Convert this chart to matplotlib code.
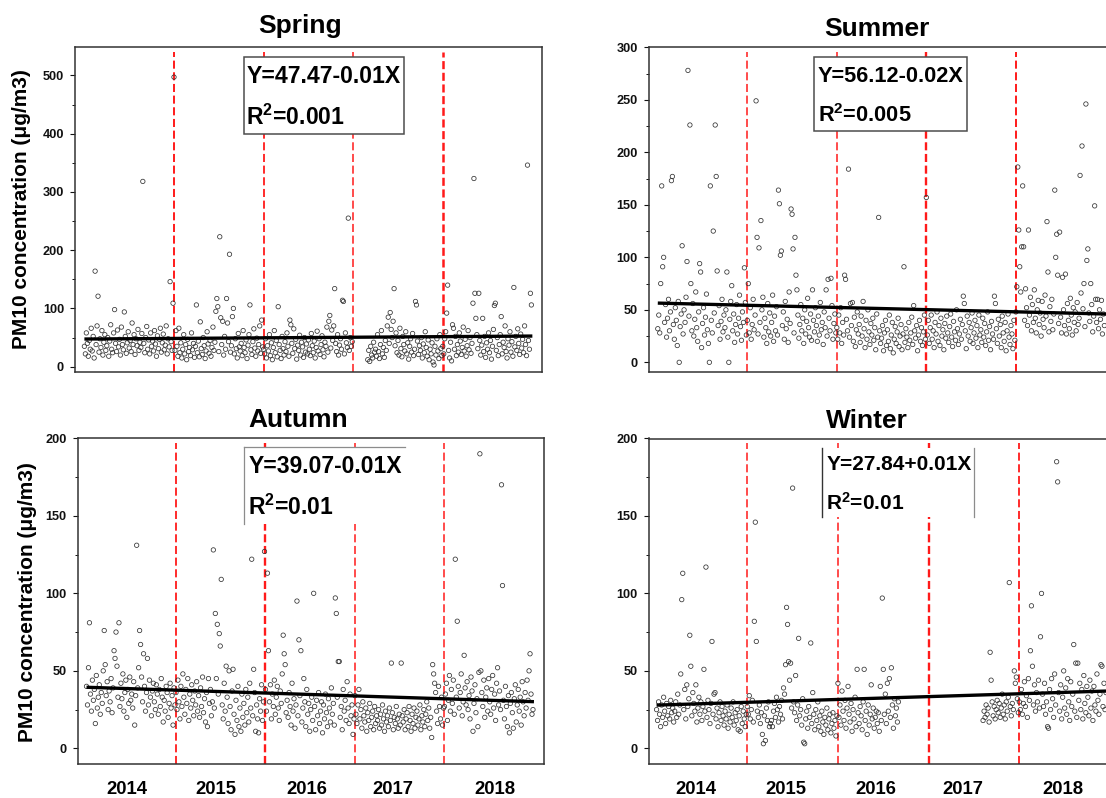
import numpy as np
import matplotlib
matplotlib.use("Agg")
import matplotlib.pyplot as plt
from matplotlib.ticker import MultipleLocator
from matplotlib.patches import Rectangle
from matplotlib.lines import Line2D

nan = float("nan")

# ---------------- data (daily PM10, one list per season-year) ----------------
year_labels = ["2014", "2015", "2016", "2017", "2018"]

spring_2014 = [35,22,58,40,18,45,30,66,27,52,15,164,38,70,121,25,48,33,62,20,42,55,28,
               36,50,18,44,72,30,24,58,98,40,26,63,34,47,20,68,38,29,94,52,23,41,60,
               32,45,26,75,38,55,21,48,36,64,28,42,33,57,318,40,24,50,69,30,46,22,58,
               35,44,27,62,39,18,53,31,47,66,25,41,56,29,37,70,22,48,34,146,43,28,109]
spring_2015 = [497,28,62,35,18,66,24,41,15,30,55,22,38,12,47,26,33,19,58,29,40,16,35,
               106,24,44,17,77,31,21,50,36,14,27,60,39,23,45,18,33,68,28,42,95,117,103,
               26,223,84,38,78,20,52,30,117,75,43,193,25,36,86,100,22,48,31,15,57,34,27,
               40,19,62,33,24,46,14,37,55,106,29,21,43,65,32,18,49,27,38,70,23,80,34]
spring_2016 = [30,22,48,15,36,27,55,19,41,12,33,62,24,45,17,103,38,28,14,52,31,20,43,
               26,58,35,18,80,72,40,23,65,31,47,13,37,28,54,20,42,34,16,50,25,39,22,
               46,30,19,57,36,24,44,15,33,61,27,48,21,38,53,29,17,42,35,68,25,78,88,
               32,63,45,70,134,40,26,55,20,37,48,30,114,112,22,58,41,33,255,28,50,35,43]
spring_2017 = [nan,nan,nan,nan,nan,nan,nan,nan,nan,nan,nan,nan,nan,nan,nan,12,28,9,35,20,15,42,25,
               30,18,55,26,14,38,62,22,33,16,45,28,70,85,40,93,64,50,78,134,36,58,24,
               45,20,66,31,17,52,38,27,60,22,41,13,35,48,25,57,19,30,112,106,44,21,36,
               28,50,15,39,24,60,33,18,46,12,30,22,41,8,3,35,20,48,27,14,55,31,19]
spring_2018 = [35,22,48,60,92,140,28,15,42,10,72,66,30,52,19,38,25,58,44,21,33,68,27,
               47,18,36,62,29,50,23,40,109,323,126,83,55,31,126,45,20,37,83,26,52,16,41,
               30,58,24,45,13,35,64,105,109,28,50,19,38,55,86,22,42,33,70,26,15,48,37,
               60,25,43,18,136,34,52,28,65,40,21,56,32,47,24,70,38,19,346,45,30,126,106]

summer_2014 = [32,45,28,75,168,91,100,38,55,24,42,60,30,48,173,177,36,22,52,40,16,58,0,
               34,46,111,27,50,38,62,96,278,44,226,75,30,56,25,41,67,33,20,48,94,86,14,
               37,52,26,43,65,31,18,0,168,40,28,125,47,226,177,87,35,54,22,39,60,29,45,
               33,50,86,24,0,41,58,73,30,46,19,36,55,27,42,64,34,21,48,38,90,57,26]
summer_2015 = [40,75,28,52,22,36,60,31,45,249,119,27,109,38,135,50,62,24,42,33,18,56,29,
               47,25,38,64,20,44,30,53,26,164,151,102,106,35,48,22,58,32,41,19,67,37,146,
               141,108,28,119,83,69,45,23,36,55,30,42,18,50,27,39,61,33,24,46,21,69,40,
               29,52,35,20,44,26,57,31,38,17,48,33,69,25,79,42,30,80,54,22,37,46,28]
summer_2016 = [33,22,45,28,52,18,38,26,83,79,41,30,184,24,56,35,57,20,43,15,31,48,27,
               36,19,44,25,58,32,14,40,22,50,29,17,37,26,42,21,33,12,46,24,138,30,18,
               23,35,11,28,40,16,31,20,45,13,26,38,9,22,34,18,29,42,15,25,36,12,27,
               91,19,32,24,14,38,21,28,43,17,54,30,23,35,11,26,40,20,33,16,29,45,22]
summer_2017 = [157,26,40,18,33,45,22,30,14,38,27,48,20,35,16,42,25,31,12,37,23,44,28,
               19,34,46,24,15,39,29,21,50,32,17,27,41,22,36,63,56,30,13,44,25,38,20,
               33,47,18,28,40,23,35,14,45,26,31,19,42,24,37,16,29,48,21,34,12,39,27,
               22,63,56,32,18,41,25,36,14,44,28,20,38,11,30,46,24,17,35,27,13,40,21]
summer_2018 = [48,72,186,126,91,67,110,168,110,40,70,52,35,126,45,62,30,55,38,69,42,28,50,
               59,36,47,25,58,41,33,64,44,134,86,29,53,39,60,31,46,164,100,122,83,37,124,
               43,28,81,50,35,84,27,56,40,32,61,45,26,52,38,48,30,57,36,42,178,66,206,
               51,75,34,246,97,108,47,39,75,55,29,44,149,60,38,60,32,50,41,59,27,46,35]

autumn_2014 = [40,28,52,81,35,24,44,31,38,16,47,26,33,41,22,36,29,50,76,54,34,43,25,
               37,30,45,23,39,63,58,75,53,33,81,27,42,32,48,24,36,44,20,38,29,46,31,
               35,26,43,15,34,131,39,52,76,67,46,30,61,40,24,36,58,28,44,33,21,37,42,
               30,25,41,35,22,38,27,45,33,17,31,24,40,36,20,29,42,26,34,15,39,28]
autumn_2015 = [36,25,44,30,19,40,27,48,33,22,38,29,45,18,35,26,41,31,21,37,28,43,24,
               34,20,39,27,46,23,32,17,36,14,45,29,38,21,30,128,26,87,45,80,35,74,66,
               109,28,19,42,24,53,33,16,50,27,12,37,51,22,9,31,18,40,14,26,11,35,20,
               29,15,38,23,33,17,42,26,122,21,51,36,11,28,19,10,32,24,41,18,30,127]
autumn_2016 = [38,24,113,63,30,41,19,35,27,44,22,33,40,26,18,37,29,48,73,61,54,23,31,
               20,36,27,15,42,24,32,13,28,95,21,70,34,63,17,26,45,30,14,38,22,29,11,
               25,33,18,100,27,12,31,21,36,16,24,30,10,28,19,35,23,14,32,26,17,39,22,
               29,15,97,87,33,56,56,20,27,12,38,24,31,18,43,26,16,35,21,28,9,19]
autumn_2017 = [34,22,16,28,38,19,25,13,30,21,17,26,11,23,18,29,14,20,24,12,27,16,21,
               18,25,13,22,15,28,19,11,24,17,21,14,26,18,55,23,12,20,16,27,19,13,22,
               15,55,21,17,25,12,19,23,14,27,18,11,22,16,26,13,20,24,15,19,28,12,21,
               17,25,14,22,30,18,26,13,20,7,54,48,42,36,24,16,40,27,19,33,15,26]
autumn_2018 = [27,35,42,18,31,47,24,38,29,44,22,122,33,82,40,26,36,48,21,30,60,39,28,
               43,25,34,19,46,37,11,29,41,23,32,14,49,190,50,36,27,44,20,33,39,24,45,
               30,22,38,47,26,35,18,42,52,28,37,25,170,105,31,19,40,27,14,34,10,29,36,
               23,13,32,41,17,28,38,24,33,15,43,30,21,36,26,44,31,50,61,35,22,25]

winter_2014 = [25,18,30,22,14,28,20,33,24,16,29,21,27,19,31,23,26,17,24,30,20,35,22,
               28,48,96,113,25,38,19,41,27,32,73,53,21,36,29,24,41,17,26,33,22,30,18,
               27,51,24,117,20,31,25,16,29,69,22,35,36,19,26,14,23,30,18,27,21,15,
               24,19,28,13,22,17,26,20,30,15,23,18,25,12,21,11,27,16,24,19,14,22]
winter_2015 = [27,22,34,19,25,31,17,82,146,69,24,20,28,16,23,9,3,21,5,26,18,30,14,
               16,18,14,24,29,20,33,25,17,27,22,31,19,39,35,54,91,80,56,44,55,26,168,
               30,23,47,18,28,71,21,25,15,32,4,3,19,24,13,27,20,68,16,36,22,12,
               25,18,30,14,21,11,24,17,9,20,15,26,12,19,22,10,16,23,13,18,8,21]
winter_2016 = [42,20,28,15,37,24,18,31,13,26,40,22,17,29,11,25,19,33,14,51,23,16,27,
               21,12,30,51,18,24,9,28,15,22,41,19,26,13,20,24,16,23,11,40,18,97,51,
               22,35,16,42,24,45,20,52,28,13,32,21,26,17,30,nan,nan,nan,nan,nan,nan,nan]
winter_2017 = [nan]*46 + [nan,nan,nan,nan,nan,nan,nan,nan,18,24,20,28,22,26,17,62,44,30,21,27,19,25,
               31,23,29,20,26,35,22,28,19,30,24,33,107,27,21,29,25,50,42,46,32,23]
winter_2018 = [30,25,38,22,29,43,27,34,20,45,31,63,92,53,28,41,24,36,30,44,26,72,100,
               35,27,42,22,30,14,13,38,25,45,32,20,48,28,185,172,36,24,41,19,33,50,26,
               39,22,45,30,18,43,27,35,67,24,55,20,55,31,42,25,38,19,47,29,23,40,
               33,21,44,26,37,18,40,28,24,48,31,22,35,54,53,27,42,25,36,nan,nan,nan]

# trend lines as drawn in the figure (value at start / end of the record)
spring_trend = [47.5, 52.6]
summer_trend = [56.4, 46.0]
autumn_trend = [39.4, 30.1]
winter_trend = [27.9, 37.0]

spring_eq, spring_r2 = "Y=47.47-0.01X", "0.001"
summer_eq, summer_r2 = "Y=56.12-0.02X", "0.005"
autumn_eq, autumn_r2 = "Y=39.07-0.01X", "0.01"
winter_eq, winter_r2 = "Y=27.84+0.01X", "0.01"

# ---------------- styling ----------------
plt.rcParams["font.family"] = ["Liberation Sans", "DejaVu Sans"]
plt.rcParams["font.weight"] = "bold"
plt.rcParams["mathtext.fontset"] = "custom"
plt.rcParams["mathtext.rm"] = "Liberation Sans:bold"
plt.rcParams["mathtext.it"] = "Liberation Sans:bold"
plt.rcParams["mathtext.bf"] = "Liberation Sans:bold"
plt.rcParams["lines.scale_dashes"] = False

W, H = 1106, 798
fig = plt.figure(figsize=(W / 100, H / 100), dpi=100)
fig.patch.set_facecolor("white")


def rect_px(l, t, r, b):
    return [l / W, 1 - b / H, (r - l) / W, (b - t) / H]


def fx(px):
    return px / W


def fy(py):
    return 1 - py / H


panels = [
    dict(title="Spring", years=[spring_2014, spring_2015, spring_2016, spring_2017, spring_2018],
         L=92, box=(75, 46.7, 542.1, 372.3), xlim=(-9.65, 470), ylim=(-9.6, 549.2),
         major=100, minor=50, trend=spring_trend, trend_x=[0, 460],
         vlw=[1.4, 1.3, 1.1, 1.8], title_xy=(300, 33.3),
         eq=spring_eq, r2=spring_r2, eq_xy=(246.4, 83.3), r2_y=125, eq_fs=16.6,
         ebox=(244, 57.3, 404.3, 134.3), ebox_style="full",
         ylabel_xy=(21.4, 209), xticks=None),
    dict(title="Summer", years=[summer_2014, summer_2015, summer_2016, summer_2017, summer_2018],
         L=92, box=(648.8, 47.3, 1118, 372.3), xlim=(-9.25, 473), ylim=(-9.5, 300),
         major=50, minor=25, trend=summer_trend, trend_x=[0, 461],
         vlw=[1.1, 1.1, 1.7, 1.4], title_xy=(876.9, 36.0),
         eq=summer_eq, r2=summer_r2, eq_xy=(817.7, 81.7), r2_y=121.7, eq_fs=15.7,
         ebox=(813.5, 57.3, 966.7, 131), ebox_style="full",
         ylabel_xy=None, xticks=None),
    dict(title="Autumn", years=[autumn_2014, autumn_2015, autumn_2016, autumn_2017, autumn_2018],
         L=91, box=(77.5, 438.3, 543.6, 764), xlim=(-9.15, 464.8), ylim=(-10.1, 200),
         major=50, minor=25, trend=autumn_trend, trend_x=[0, 455],
         vlw=[1.3, 1.7, 1.1, 1.1], title_xy=(298, 426.7),
         eq=autumn_eq, r2=autumn_r2, eq_xy=(248.2, 472.7), r2_y=515, eq_fs=16.5,
         ebox=(244, 447.3, 404.6, 524), ebox_style="topleft",
         ylabel_xy=(27.7, 601.7), xticks=[41, 132, 224, 311.5, 415]),
    dict(title="Winter", years=[winter_2014, winter_2015, winter_2016, winter_2017, winter_2018],
         L=90, box=(648.8, 438.5, 1118, 764), xlim=(-7.7, 457.9), ylim=(-10.1, 200),
         major=50, minor=25, trend=winter_trend, trend_x=[0, 447],
         vlw=[1.1, 1.1, 1.7, 1.3], title_xy=(867.3, 428.0),
         eq=winter_eq, r2=winter_r2, eq_xy=(826.4, 470), r2_y=509.3, eq_fs=15.0,
         ebox=(822.2, 448.3, 973.6, 517.3), ebox_style="sides",
         ylabel_xy=None, xticks=[39, 128, 218, 304, 403]),
]

for p in panels:
    ax = fig.add_axes(rect_px(*p["box"]))
    L = p["L"]
    xs, ys = [], []
    for i, vals in enumerate(p["years"]):
        v = np.asarray(vals, dtype=float)
        xs.append(i * L + np.arange(len(v)))
        ys.append(v)
    x = np.concatenate(xs)
    y = np.concatenate(ys)
    ok = ~np.isnan(y)
    ax.scatter(x[ok], y[ok], s=10, facecolors="none", edgecolors="#333333",
               linewidths=0.55, zorder=2)

    for k in range(1, 5):
        ax.axvline(k * L, ymin=0, ymax=0.985, color="#ff1a1a",
                   lw=p["vlw"][k - 1], linestyle=(0, (5.8, 2.6)), zorder=1)

    ax.plot(p["trend_x"], p["trend"], color="black", lw=2.4,
            solid_capstyle="butt", zorder=3)

    ax.set_xlim(*p["xlim"])
    ax.set_ylim(*p["ylim"])
    ax.yaxis.set_major_locator(MultipleLocator(p["major"]))
    ax.yaxis.set_minor_locator(MultipleLocator(p["minor"]))
    ax.tick_params(axis="y", which="major", length=3.6, width=0.8, pad=4.3,
                   labelsize=9.2, direction="out", colors="#111111")
    ax.tick_params(axis="y", which="minor", length=2.2, width=0.7,
                   direction="out", colors="#111111")
    for lab in ax.get_yticklabels():
        lab.set_fontweight("bold")
    if p["xticks"] is None:
        ax.set_xticks([])
    else:
        ax.set_xticks(p["xticks"])
        ax.set_xticklabels(year_labels, fontsize=13.3, fontweight="bold")
        ax.tick_params(axis="x", length=0, pad=12.5)
    for s in ax.spines.values():
        s.set_linewidth(1.1)
        s.set_color("#333333")

    # title
    fig.text(fx(p["title_xy"][0]), fy(p["title_xy"][1]), p["title"], ha="center",
             va="baseline", fontsize=19, fontweight="bold")

    # equation box
    l, t, r, b = p["ebox"]
    fig.add_artist(Rectangle((fx(l), fy(b)), fx(r) - fx(l), fy(t) - fy(b),
                             transform=fig.transFigure, facecolor="white",
                             edgecolor="none", zorder=2))
    if p["ebox_style"] == "full":
        fig.add_artist(Rectangle((fx(l), fy(b)), fx(r) - fx(l), fy(t) - fy(b),
                                 transform=fig.transFigure, facecolor="none",
                                 edgecolor="#4d4d4d", lw=1.1, zorder=2.5))
    elif p["ebox_style"] == "topleft":
        fig.add_artist(Line2D([fx(l), fx(r)], [fy(t), fy(t)], transform=fig.transFigure,
                              color="#8c8c8c", lw=0.9, zorder=2.5))
        fig.add_artist(Line2D([fx(l), fx(l)], [fy(t), fy(b)], transform=fig.transFigure,
                              color="#8c8c8c", lw=0.9, zorder=2.5))
    else:
        fig.add_artist(Line2D([fx(l), fx(l)], [fy(t), fy(b)], transform=fig.transFigure,
                              color="#333333", lw=1.0, zorder=2.5))
        fig.add_artist(Line2D([fx(r), fx(r)], [fy(t), fy(b)], transform=fig.transFigure,
                              color="#8c8c8c", lw=0.9, zorder=2.5))
    ex, ey = p["eq_xy"]
    fig.text(fx(ex), fy(ey), p["eq"], ha="left", va="baseline",
             fontsize=p["eq_fs"], fontweight="bold", zorder=3)
    fig.text(fx(ex), fy(p["r2_y"]), r"R$^2$=" + p["r2"], ha="left", va="baseline",
             fontsize=p["eq_fs"], fontweight="bold", zorder=3)

    if p["ylabel_xy"] is not None:
        fig.text(fx(p["ylabel_xy"][0]), fy(p["ylabel_xy"][1]),
                 "PM10 concentration (μg/m3)", rotation=90, ha="center",
                 va="center", fontsize=15, fontweight="bold")

fig.savefig("out.png", dpi=100, facecolor="white")
